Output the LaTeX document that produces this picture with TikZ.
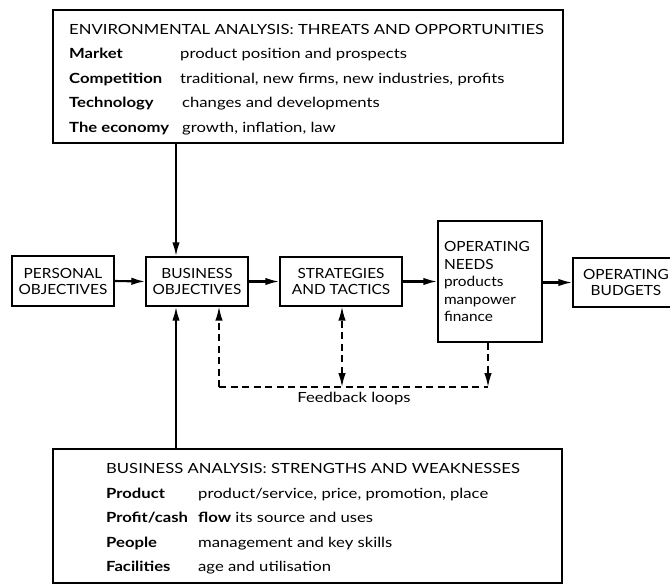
\documentclass[tikz,border=0pt]{standalone}
\usepackage{fontspec}
\setmainfont{Lato}[FakeStretch=1.19]
\newfontfamily\boxfont{Lato}[FakeStretch=1.1]
\usetikzlibrary{arrows.meta}
\begin{document}
\begin{tikzpicture}[x=1pt,y=-1pt,
  box/.style={draw,line width=1.4pt,inner sep=0pt},
  txt/.style={anchor=base west,inner sep=0pt,font=\fontsize{14}{16}\selectfont},
  btxt/.style={txt,font=\fontsize{14}{16}\selectfont\bfseries},
  ctr/.style={align=center,font=\boxfont\fontsize{14}{16}\selectfont},
  ftip/.tip={Latex[length=14pt,width=7.5pt]},
  arr/.style={line width=2.1pt,-{ftip}},
  dsh/.style={line width=1.6pt,dash pattern=on 7pt off 4.5pt}]
\useasboundingbox[fill=white] (0,0) rectangle (670,586);

% top box
\node[box,minimum width=510pt,minimum height=133pt] (top) at (308,76.5) {};
\node[txt] (t0) at (69,35) {ENVIRONMENTAL ANALYSIS: THREATS AND OPPORTUNITIES};
\node[btxt] (t1) at (69,59) {Market};
\node[txt] (t1d) at (180,59) {product position and prospects};
\node[btxt] (t2) at (69,84) {Competition};
\node[txt] (t2d) at (180,84) {traditional, new firms, new industries, profits};
\node[btxt] (t3) at (69,108) {Technology};
\node[txt] (t3d) at (182,108) {changes and developments};
\node[btxt] (t4) at (69,132) {The economy};
\node[txt] (t4d) at (182,132) {growth, inflation, law};

% middle row
\node[box,ctr,minimum width=102pt,minimum height=50pt] (pers) at (63,281) {PERSONAL\\OBJECTIVES};
\node[box,ctr,minimum width=102pt,minimum height=49pt] (bus) at (197,281.5) {BUSINESS\\OBJECTIVES};
\node[box,ctr,minimum width=122pt,minimum height=49pt] (strat) at (341,281.5) {STRATEGIES\\AND TACTICS};
\node[box,align=left,text width=92pt,inner xsep=6pt,minimum height=121pt,font=\boxfont\fontsize{14}{17.5}\selectfont] (needs) at (490,281.5) {OPERATING\\NEEDS\\products\\manpower\\finance};
\node[box,ctr,minimum width=106pt,minimum height=49pt] (budg) at (626,282.5) {OPERATING\\BUDGETS};

% bottom box
\node[box,minimum width=509pt,minimum height=134pt] (bot) at (307.5,516) {};
\node[txt] (b0) at (106,473) {BUSINESS ANALYSIS: STRENGTHS AND WEAKNESSES};
\node[btxt] (b1) at (106,498) {Product};
\node[txt] (b1d) at (198,498) {product/service, price, promotion, place};
\node[btxt] (b2) at (106,522) {Profit/cash};
\node[txt] (b2d) at (198,522) {\textbf{flow} its source and uses};
\node[btxt] (b3) at (106,547) {People};
\node[txt] (b3d) at (198,547) {management and key skills};
\node[btxt] (b4) at (106,571) {Facilities};
\node[txt] (b4d) at (198,571) {age and utilisation};

% solid connectors
\coordinate (vx) at (176,0);
\draw[arr] (top.south -| vx) -- (bus.north -| vx);
\draw[arr] (bot.north -| vx) -- (bus.south -| vx);
\draw[arr] (pers.east) -- (bus.west);
\draw[arr] (bus.east) -- (strat.west);
\draw[arr] (strat.east) -- (needs.west |- strat.east);
\draw[arr] (needs.east |- budg.west) -- (budg.west);

% feedback loops
\coordinate (fbL) at (219,387);
\coordinate (fbM) at (342,387);
\coordinate (fbR) at (488,387);
\draw[dsh] (fbL) -- (fbR);
\draw[dsh,-{ftip}] (fbL) -- (bus.south -| fbL);
\draw[dsh,{ftip}-{ftip}] (fbM) -- (strat.south -| fbM);
\draw[dsh,-{ftip}] (needs.south -| fbR) -- (fbR);
\node[anchor=center,font=\fontsize{14}{16}\selectfont] (fbl) at (354,399) {Feedback loops};
\end{tikzpicture}
\end{document}
